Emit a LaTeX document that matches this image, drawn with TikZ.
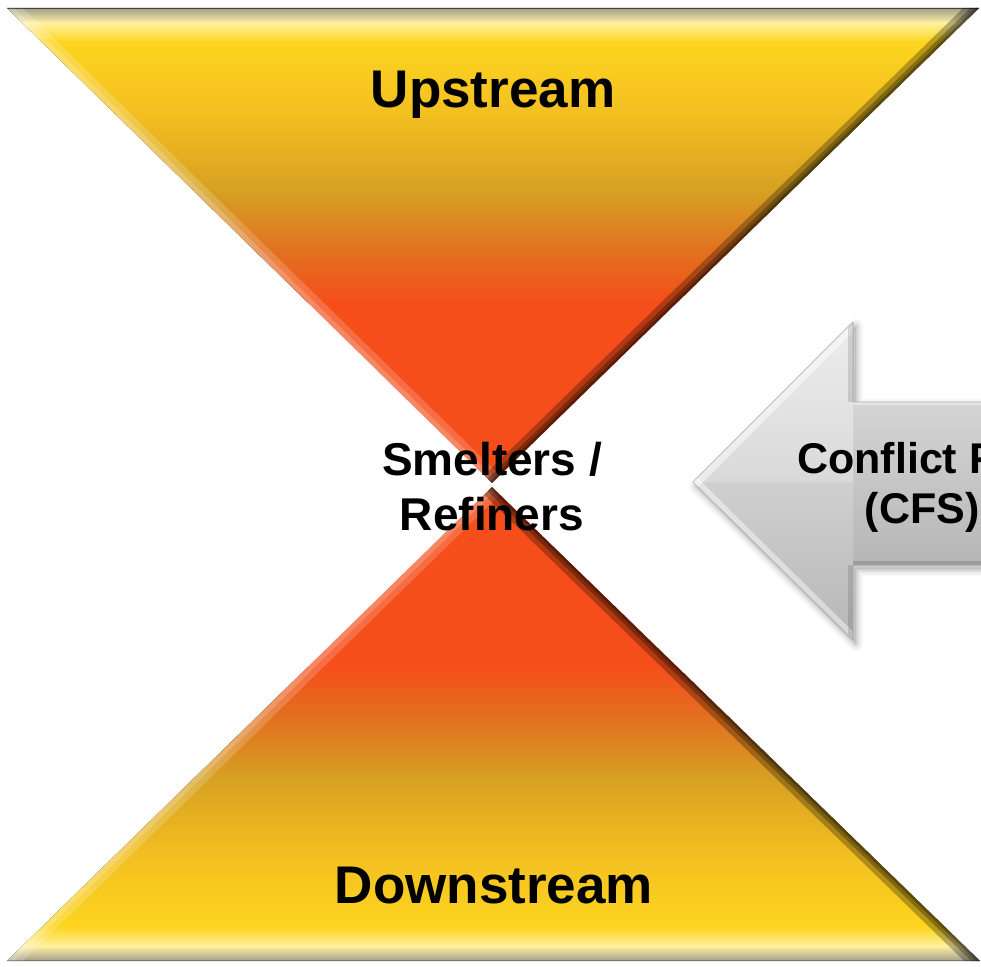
\documentclass[tikz,border=0pt]{standalone}
\usepackage{fontspec}
\setmainfont{Liberation Sans}
\definecolor{grayband}{HTML}{A29E8C}
\definecolor{paleyel}{HTML}{FFF1A0}
\definecolor{yelA}{HTML}{FDD51F}
\definecolor{yelB}{HTML}{F3C021}
\definecolor{goldC}{HTML}{D6A022}
\definecolor{orgD}{HTML}{E2701F}
\definecolor{redE}{HTML}{F54E1A}
\definecolor{arrowTop}{HTML}{E4E4E4}
\definecolor{arrowBot}{HTML}{A8A8A8}
\tikzset{
  lbl/.style={font=\bfseries, text=black, inner sep=0pt},
  lighted/.style={line width=#1, white, opacity=0.18, line cap=round},
  darkedge/.style={line width=#1, black, opacity=0.28, line cap=round}
}
\begin{document}
\begin{tikzpicture}[x=1pt,y=-1pt]
\useasboundingbox (0,0) rectangle (981,966);
\fill[white] (0,0) rectangle (981,966);

% named corners
\coordinate (TL) at (7,8);
\coordinate (TR) at (979,8);
\coordinate (TA) at (492,483);
\coordinate (BL) at (7,961);
\coordinate (BR) at (980,961);
\coordinate (BA) at (492,487);

% ---- top triangle ----
\begin{scope}
  \clip (TL) -- (TR) -- (TA) -- cycle;
  \fill[top color=grayband, bottom color=paleyel] (0,8) rectangle (981,23);
  \fill[top color=paleyel, bottom color=yelA] (0,22.5) rectangle (981,42);
  \fill[top color=yelA, bottom color=yelB] (0,41.5) rectangle (981,112);
  \fill[top color=yelB, bottom color=goldC] (0,111.5) rectangle (981,192);
  \fill[top color=goldC, bottom color=orgD] (0,191.5) rectangle (981,252);
  \fill[top color=orgD, bottom color=redE] (0,251.5) rectangle (981,302);
  \fill[redE] (0,301.5) rectangle (981,490);
  % bevel
  \draw[lighted=22pt] (TL) -- (TA);
  \draw[lighted=10pt] (TL) -- (TA);
  \draw[darkedge=22pt] (TR) -- (TA);
  \draw[darkedge=12pt] (TR) -- (TA);
  \draw[darkedge=5pt] (TR) -- (TA);
  \draw[black, opacity=0.6, line width=2pt] (TL) -- (TR);
\end{scope}

% ---- bottom triangle ----
\begin{scope}
  \clip (BL) -- (BR) -- (BA) -- cycle;
  \fill[bottom color=grayband, top color=paleyel] (0,946) rectangle (981,961);
  \fill[bottom color=paleyel, top color=yelA] (0,927) rectangle (981,946.5);
  \fill[bottom color=yelA, top color=yelB] (0,857) rectangle (981,927.5);
  \fill[bottom color=yelB, top color=goldC] (0,777) rectangle (981,857.5);
  \fill[bottom color=goldC, top color=orgD] (0,717) rectangle (981,777.5);
  \fill[bottom color=orgD, top color=redE] (0,667) rectangle (981,717.5);
  \fill[redE] (0,480) rectangle (981,667.5);
  % bevel
  \draw[lighted=22pt] (BL) -- (BA);
  \draw[lighted=10pt] (BL) -- (BA);
  \draw[darkedge=22pt] (BR) -- (BA);
  \draw[darkedge=12pt] (BR) -- (BA);
  \draw[darkedge=5pt] (BR) -- (BA);
  \draw[black, opacity=0.25, line width=3pt] (BL) -- (BR);
\end{scope}

% ---- arrow ----
\coordinate (AT) at (693,482);
\coordinate (AH1) at (853,322);
\coordinate (AS1) at (853,402);
\coordinate (AE1) at (995,402);
\coordinate (AE2) at (995,565);
\coordinate (AS2) at (853,565);
\coordinate (AH2) at (853,640);
% soft shadow
\foreach \w/\o in {14/0.03,10/0.04,6/0.05,3/0.06}{
  \draw[line width=\w pt, black, opacity=\o, line join=round, fill=black, fill opacity=0.02]
    ([shift={(3,4)}]AT) -- ([shift={(3,4)}]AH1) -- ([shift={(3,4)}]AS1) -- ([shift={(3,4)}]AE1)
    -- ([shift={(3,4)}]AE2) -- ([shift={(3,4)}]AS2) -- ([shift={(3,4)}]AH2) -- cycle;
}
\begin{scope}
  \clip (AT) -- (AH1) -- (AS1) -- (AE1) -- (AE2) -- (AS2) -- (AH2) -- cycle;
  \fill[top color=arrowTop, bottom color=arrowBot] (680,322) rectangle (995,640);
  \fill[white, opacity=0.35] (AT) -- (AH1) -- (853,482) -- cycle;
  \fill[white, opacity=0.18] (AT) -- (853,482) -- (AH2) -- cycle;
  \draw[white, opacity=0.5, line width=14pt] (AT) -- (AH1);
  \draw[white, opacity=0.45, line width=12pt] (AT) -- (AH2);
  \draw[black, opacity=0.12, line width=10pt] (AH1) -- (AS1);
  \draw[black, opacity=0.12, line width=10pt] (AS2) -- (AH2);
  \draw[white, opacity=0.4, line width=6pt] (AS1) -- (AE1);
  \draw[black, opacity=0.15, line width=8pt] (AS2) -- (AE2);
\end{scope}
\draw[gray!60, line width=0.6pt, line join=miter]
  (AE1) -- (AS1) -- (AH1) -- (AT) -- (AH2) -- (AS2) -- (AE2);

% ---- labels ----
\node[lbl, font=\bfseries\fontsize{53}{60}\selectfont, anchor=base] (up) at (493,107) {Upstream};
\node[lbl, font=\bfseries\fontsize{53}{60}\selectfont, anchor=base] (down) at (494,903) {Downstream};
\node[lbl, font=\bfseries\fontsize{46}{55}\selectfont, anchor=base] (sm1) at (492,475) {Smelters /};
\node[lbl, font=\bfseries\fontsize{46}{55}\selectfont, anchor=base] (sm2) at (492,530) {Refiners};
\node[lbl, font=\bfseries\fontsize{43}{50}\selectfont, anchor=base west] (cf1) at (797,473) {Conflict F};
\node[lbl, font=\bfseries\fontsize{43}{50}\selectfont, anchor=base] (cf2) at (922,523) {(CFS)};
\end{tikzpicture}
\end{document}
